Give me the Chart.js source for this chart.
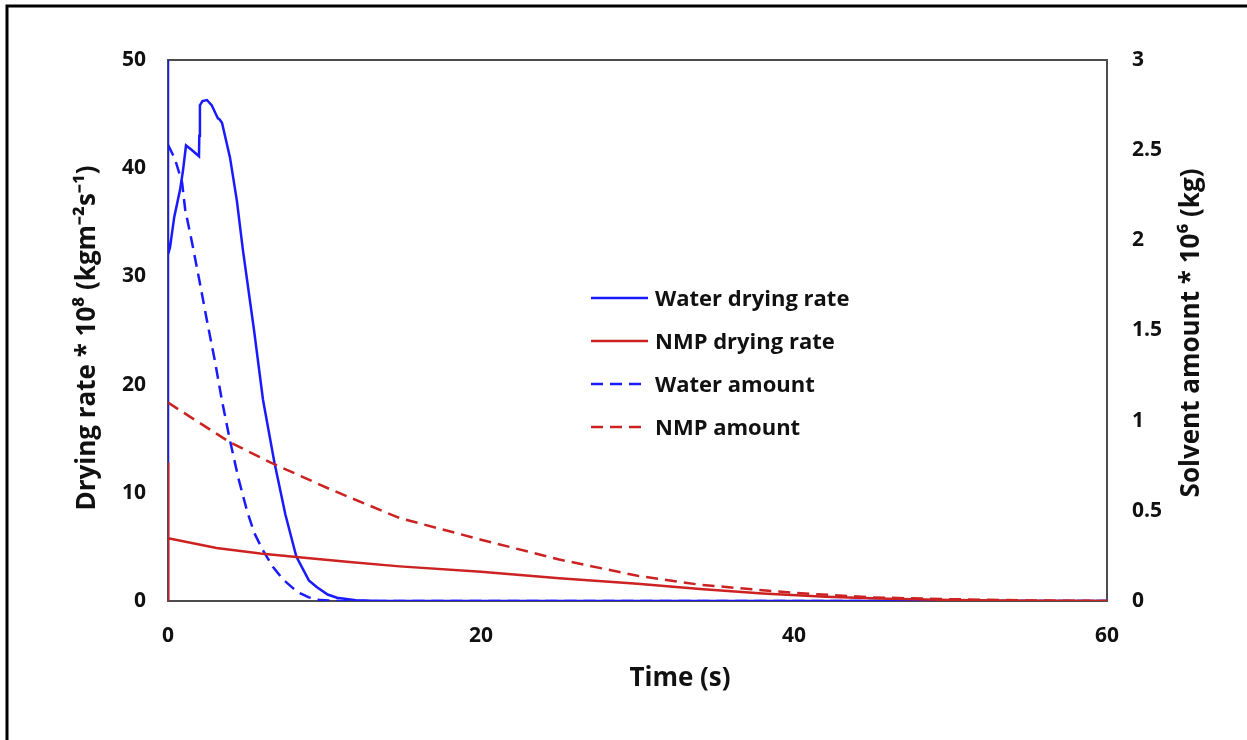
<!DOCTYPE html>
<html>
<head>
<meta charset="utf-8">
<script src="https://cdn.jsdelivr.net/npm/chart.js@4.4.1/dist/chart.umd.min.js"></script>
<style>
  html, body { margin: 0; padding: 0; background: #fff; }
  #wrap { width: 1247px; height: 740px; }
</style>
</head>
<body>
<div id="wrap"><canvas id="chart" width="1247" height="740"></canvas></div>
<script>
// values (time in s)
const waterRateT = [0, 0, 0, 0.13, 0.4, 0.77, 0.96, 1.15, 1.5, 1.98, 2.0, 2.04, 2.2, 2.49, 2.8, 3.19, 3.3, 3.45, 3.96, 4.4, 4.79, 5.5, 6.07, 6.8, 7.5, 8.2, 9.0, 9.5, 10.2, 10.8, 12, 13.5, 20, 40, 60];
const waterRate  = [0, 50, 32, 32.7, 35.5, 38, 39.8, 42.1, 41.7, 41.1, 43, 45.8, 46.2, 46.3, 45.8, 44.6, 44.5, 44.2, 41, 37, 32.4, 25, 18.6, 12.8, 8, 4.1, 1.9, 1.3, 0.6, 0.3, 0.08, 0, 0, 0, 0];

const nmpRateT = [0, 0, 0.02, 3.1, 5.9, 8.2, 11.6, 14.8, 20, 25, 30, 34, 38, 42, 46, 50, 55, 60];
const nmpRate  = [0, 12.8, 5.8, 4.9, 4.4, 4.07, 3.6, 3.2, 2.7, 2.1, 1.6, 1.1, 0.7, 0.4, 0.2, 0.1, 0.03, 0];

const waterAmtT = [0, 0.45, 0.9, 1.1, 1.53, 2, 2.5, 3, 3.45, 3.96, 4.5, 5.05, 5.5, 6.07, 6.7, 7.35, 8.0, 8.43, 9.0, 9.7, 11, 60];
const waterAmt  = [2.53, 2.45, 2.32, 2.17, 1.99, 1.78, 1.55, 1.33, 1.11, 0.89, 0.68, 0.5, 0.38, 0.28, 0.19, 0.12, 0.07, 0.044, 0.02, 0.005, 0, 0];

const nmpAmtT = [0, 3.96, 6.5, 10.35, 14.8, 20, 25, 30, 34, 40, 45, 50, 55, 60];
const nmpAmt  = [1.1, 0.88, 0.77, 0.62, 0.46, 0.34, 0.23, 0.14, 0.09, 0.045, 0.02, 0.01, 0.003, 0];

const xTicks = [0, 20, 40, 60];
const xTitle = 'Time (s)';
const leftTitle = 'Drying rate * 10⁸ (kgm⁻²s⁻¹)';
const rightTitle = 'Solvent amount * 10⁶ (kg)';

const BLUE = '#1a1aff';
const RED = '#cc2222';
const INK = '#111';
const FONT = '"Open Sans"';

function pts(xs, ys) {
  return xs.map((x, i) => ({x: x, y: ys[i]}));
}

function text(c, str, x, y, rot) {
  c.save();
  c.translate(x, y);
  if (rot) c.rotate(rot);
  c.font = 'bold 26px ' + FONT;
  c.fillStyle = INK;
  c.textAlign = 'center';
  c.textBaseline = 'middle';
  c.fillText(str, 0, 0);
  c.restore();
}

// white page, outer frame, plot box and the axis titles (placed as in the original)
const framePlugin = {
  id: 'frame',
  beforeDraw(chart) {
    const c = chart.ctx;
    c.save();
    c.fillStyle = '#fff';
    c.fillRect(0, 0, chart.width, chart.height);
    c.strokeStyle = '#000';
    c.lineWidth = 3;
    c.beginPath();
    c.moveTo(7, 740);
    c.lineTo(7, 6);
    c.lineTo(1247, 6);
    c.stroke();
    c.restore();
  },
  beforeDatasetsDraw(chart) {
    const a = chart.chartArea;
    const c = chart.ctx;
    c.save();
    c.strokeStyle = '#4d4d4d';
    c.lineWidth = 2;
    c.strokeRect(a.left, a.top, a.right - a.left, a.bottom - a.top);
    c.restore();
  },
  afterDraw(chart) {
    const c = chart.ctx;
    text(c, xTitle, 680, 679, 0);
    text(c, leftTitle, 88, 338, -Math.PI / 2);
    text(c, rightTitle, 1192, 333, -Math.PI / 2);
  }
};

// legend sits inside the plot, like the original
const legendPlugin = {
  id: 'insideLegend',
  afterDraw(chart) {
    const c = chart.ctx;
    const x0 = 591, x1 = 648, tx = 655;
    let y = 298;
    c.save();
    c.font = 'bold 22px ' + FONT;
    c.textBaseline = 'middle';
    c.fillStyle = INK;
    chart.data.datasets.forEach(ds => {
      c.strokeStyle = ds.borderColor;
      c.lineWidth = ds.borderWidth;
      c.setLineDash(ds.borderDash || []);
      c.beginPath();
      c.moveTo(x0, y);
      c.lineTo(x1, y);
      c.stroke();
      c.setLineDash([]);
      c.fillText(ds.label, tx, y + 1.5);
      y += 43;
    });
    c.restore();
  }
};

const tickFont = {family: FONT, size: 21, weight: 'bold'};

new Chart(document.getElementById('chart'), {
  type: 'line',
  data: {
    datasets: [
      {label: 'Water drying rate', data: pts(waterRateT, waterRate), yAxisID: 'y',
       borderColor: BLUE, borderWidth: 2.5, order: 4},
      {label: 'NMP drying rate', data: pts(nmpRateT, nmpRate), yAxisID: 'y',
       borderColor: RED, borderWidth: 2.5, order: 2},
      {label: 'Water amount', data: pts(waterAmtT, waterAmt), yAxisID: 'y1',
       borderColor: BLUE, borderWidth: 2.5, borderDash: [12, 7], order: 3},
      {label: 'NMP amount', data: pts(nmpAmtT, nmpAmt), yAxisID: 'y1',
       borderColor: RED, borderWidth: 2.5, borderDash: [12, 7], order: 1}
    ]
  },
  options: {
    responsive: false,
    animation: false,
    devicePixelRatio: 1,
    layout: {padding: {left: 72, right: 43, top: 60, bottom: 44}},
    elements: {point: {radius: 0}, line: {tension: 0, fill: false}},
    plugins: {legend: {display: false}, tooltip: {enabled: false}},
    scales: {
      x: {
        type: 'linear', min: 0, max: 60,
        afterBuildTicks: s => { s.ticks = xTicks.map(v => ({value: v})); },
        ticks: {font: tickFont, color: INK, padding: 22},
        grid: {display: false, drawTicks: false},
        border: {display: false},
        title: {display: false},
        afterFit: s => { s.height = 740 - 44 - 601; }
      },
      y: {
        position: 'left', min: 0, max: 50,
        ticks: {stepSize: 10, font: tickFont, color: INK, padding: 22},
        grid: {display: false, drawTicks: false},
        border: {display: false},
        title: {display: false},
        afterFit: s => { s.width = 168 - 72; }
      },
      y1: {
        position: 'right', min: 0, max: 3,
        ticks: {stepSize: 0.5, font: tickFont, color: INK, padding: 25,
                callback: v => String(v)},
        grid: {display: false, drawTicks: false},
        border: {display: false},
        title: {display: false},
        afterFit: s => { s.width = 97; }
      }
    }
  },
  plugins: [framePlugin, legendPlugin]
});
</script>
</body>
</html>
